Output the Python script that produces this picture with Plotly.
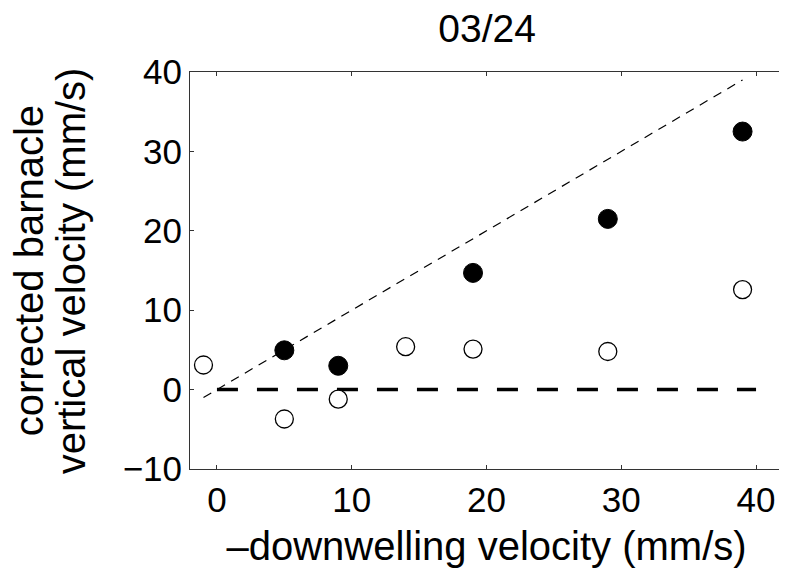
import plotly.graph_objects as go

# data
open_x = [-1, 5, 9, 14, 19, 29, 39]
open_y = [3.1, -3.7, -1.2, 5.4, 5.1, 4.8, 12.6]
filled_x = [5, 9, 19, 29, 39]
filled_y = [4.95, 3.0, 14.7, 21.5, 32.5]
one_to_one_x = [-1, 39]
zero_line_x = [0, 40]
zero_line_y = [0, 0]
x_ticks = [0, 10, 20, 30, 40]
y_ticks = [-10, 0, 10, 20, 30, 40]
y_title_lines = ["corrected barnacle", "vertical velocity (mm/s)"]

FONT = "Liberation Sans, Arial, Helvetica, sans-serif"

fig = go.Figure()
fig.add_trace(go.Scatter(x=one_to_one_x, y=one_to_one_x, mode="lines",
                         line=dict(color="black", width=1.2, dash="9px,7px"),
                         showlegend=False, hoverinfo="skip"))
fig.add_trace(go.Scatter(x=zero_line_x, y=zero_line_y, mode="lines",
                         line=dict(color="black", width=3.5, dash="21px,19px"),
                         showlegend=False, hoverinfo="skip"))
fig.add_trace(go.Scatter(x=open_x, y=open_y, mode="markers",
                         marker=dict(size=18, color="white", symbol="circle",
                                     line=dict(color="black", width=1.3)),
                         showlegend=False))
fig.add_trace(go.Scatter(x=filled_x, y=filled_y, mode="markers",
                         marker=dict(size=19, color="black", symbol="circle",
                                     line=dict(color="black", width=1)),
                         showlegend=False))

axis_common = dict(showgrid=False, zeroline=False, showline=True, linecolor="#333",
                   linewidth=1, mirror="ticks", ticks="inside", ticklen=4,
                   tickcolor="#333", automargin=False,
                   tickfont=dict(size=35, color="black", family=FONT))

# y-axis title as two rotated lines (tight line spacing as in the original)
for xpos, txt in zip([-0.272, -0.201], y_title_lines):
    fig.add_annotation(text=txt, xref="paper", yref="paper", x=xpos, y=0.5,
                       xanchor="center", yanchor="middle", textangle=-90,
                       showarrow=False, font=dict(size=40, color="black", family=FONT))

fig.update_layout(
    width=779, height=561,
    paper_bgcolor="white", plot_bgcolor="white",
    margin=dict(l=182, r=4, t=64, b=100),
    title=dict(text="03/24", x=0.615, xanchor="center", y=0.963, yanchor="middle",
               font=dict(size=39, color="black", family=FONT)),
    xaxis=dict(range=[-2, 42], tickvals=x_ticks, **axis_common,
               title=dict(text="\u2013downwelling velocity (mm/s)", standoff=13,
                          font=dict(size=40, color="black", family=FONT))),
    yaxis=dict(range=[-10, 40], tickvals=y_ticks, **axis_common),
)

fig.write_html("out.html")
